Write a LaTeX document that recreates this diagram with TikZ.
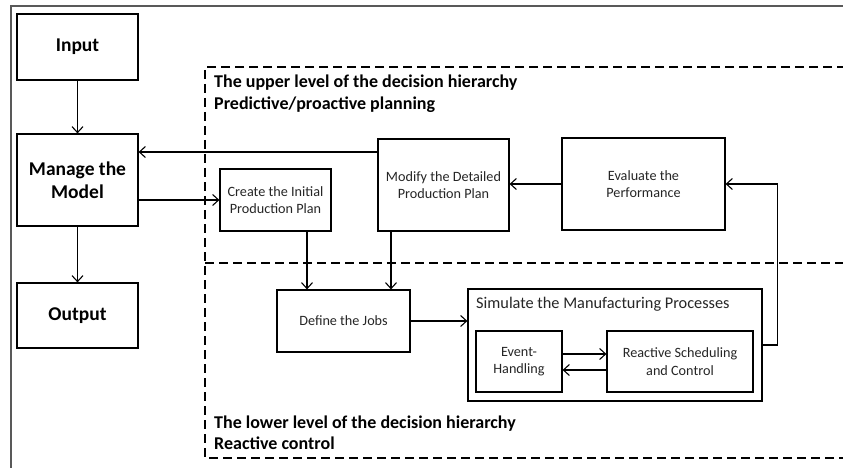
\documentclass[tikz,border=0pt]{standalone}
\usepackage{fontspec}
\setmainfont{Carlito}
\usetikzlibrary{arrows.meta}
\begin{document}
\begin{tikzpicture}[x=1pt,y=-1pt,
  box/.style={draw=black,line width=1.2pt,fill=white,align=center,inner sep=0pt,
    font=\fontsize{14.2}{17.5}\selectfont,text=black!85},
  bigbox/.style={box,font=\fontsize{19.5}{23}\selectfont\bfseries,text=black},
  arr/.style={line width=1.1pt,-{Straight Barb[length=6pt,width=11pt,line width=1.1pt]}},
  dashline/.style={line width=1.8pt,dash pattern=on 9pt off 5pt},
  hdr/.style={anchor=base west,inner sep=0pt,font=\fontsize{18}{21}\selectfont\bfseries}]
\useasboundingbox (0,0) rectangle (843,468);
\clip (0,0) rectangle (843,468);
\fill[white] (0,0) rectangle (843,468);
% outer frame
\draw[line width=1.5pt,draw=black!65] (11,6) rectangle (860,480);
% dashed regions
\draw[dashline] (860,67) -- (205,67) -- (205,458) -- (860,458);
\draw[dashline] (205,263) -- (860,263);
% headers
\node[hdr] (h1) at (214,88) {The upper level of the decision hierarchy};
\node[hdr] (h2) at (214,110) {Predictive/proactive planning};
\node[hdr] (h3) at (214,428) {The lower level of the decision hierarchy};
\node[hdr] (h4) at (214,449) {Reactive control};
% left column
\node[bigbox,minimum width=121pt,minimum height=66pt] (in) at (77.5,47) {Input};
\node[bigbox,minimum width=121pt,minimum height=92pt] (man) at (77.5,180) {Manage the\\Model};
\node[bigbox,minimum width=121pt,minimum height=65pt] (out) at (77.5,315.5) {Output};
% upper level
\node[box,minimum width=111pt,minimum height=62pt] (cre) at (275.5,200) {Create the Initial\\Production Plan};
\node[box,minimum width=131pt,minimum height=92pt] (mod) at (443.5,185) {Modify the Detailed\\Production Plan};
\node[box,minimum width=163pt,minimum height=92pt] (eva) at (643.5,184) {Evaluate the\\Performance};
% lower level
\node[box,minimum width=133pt,minimum height=62pt] (def) at (343.5,321) {Define the Jobs};
\node[box,minimum width=294pt,minimum height=112pt] (sim) at (615,345) {};
\node[anchor=base west,inner sep=0pt,font=\fontsize{16.3}{19}\selectfont,text=black!85] (simt) at (476,308) {Simulate the Manufacturing Processes};
\node[box,minimum width=86pt,minimum height=61pt] (evh) at (519,361.5) {Event-\\Handling};
\node[box,minimum width=146pt,minimum height=61pt] (rea) at (680,361.5) {Reactive Scheduling\\and Control};
% connectors
\draw[arr] (in) -- (man);
\draw[arr] (man) -- (out);
\path ([yshift=33pt]mod.west) coordinate (m1);
\draw[arr] (m1) -- (man.east |- m1);
\draw[arr] (man.east |- cre.west) -- (cre.west);
\draw[arr] (eva.west) -- (mod.east |- eva.west);
\path ([xshift=31.5pt]cre.south) coordinate (c1);
\path ([xshift=-52.5pt]mod.south) coordinate (c2);
\draw[arr] (c1) -- (c1 |- def.north);
\draw[arr] (c2) -- (c2 |- def.north);
\draw[arr] (def.east) -- (def.east -| sim.west);
\draw[arr] ([yshift=7.5pt]evh.east) -- ([yshift=7.5pt]rea.west);
\draw[arr] ([yshift=-8.5pt]rea.west) -- ([yshift=-8.5pt]evh.east);
\draw[arr] (sim.east) -- ++(15,0) |- (eva.east);
\end{tikzpicture}
\end{document}
